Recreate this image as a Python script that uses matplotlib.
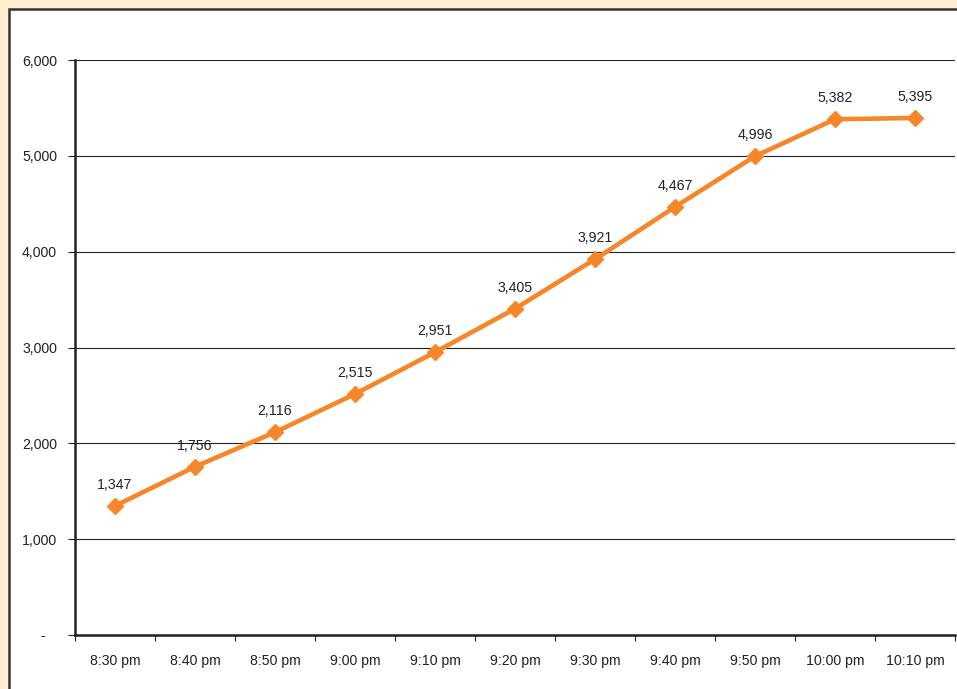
import matplotlib.pyplot as plt
from matplotlib.patches import Rectangle

times = ['8:30 pm', '8:40 pm', '8:50 pm', '9:00 pm', '9:10 pm', '9:20 pm',
         '9:30 pm', '9:40 pm', '9:50 pm', '10:00 pm', '10:10 pm']
counts = [1347, 1756, 2116, 2515, 2951, 3405, 3921, 4467, 4996, 5382, 5395]
yticks = [0, 1000, 2000, 3000, 4000, 5000, 6000]

plt.rcParams['font.family'] = ['Liberation Sans', 'DejaVu Sans']

fig = plt.figure(figsize=(9.57, 6.89), dpi=100)
fig.patch.set_facecolor('#FFEFCF')

# white chart panel with dark border
W, H = 957, 689
fig.patches.append(Rectangle((9 / W, -0.05), 1.1, (H - 9) / H + 0.05,
                             transform=fig.transFigure, facecolor='white',
                             edgecolor='#333333', linewidth=1.8, zorder=-10))

ax = fig.add_axes([75 / W, (H - 635) / H, 880 / W, 575 / H])
ax.set_zorder(5)
ax.set_facecolor('none')

x = range(len(times))
ax.plot(x, counts, color='#F5862A', linewidth=3.3, marker='D', markersize=8,
        zorder=3, clip_on=False)
for xi, v in zip(x, counts):
    ax.annotate(f'{v:,}', (xi, v), xytext=(0, 10), textcoords='offset points',
                ha='center', va='bottom', fontsize=10.2, color='#222222')

ax.set_xlim(-0.5, len(times) - 0.5)
ax.set_ylim(0, 6000)
ax.set_yticks(yticks)
# accounting-style zero: a dash followed by padding
ax.set_yticklabels(['-\u00a0\u00a0\u00a0' if t == 0 else f'{t:,}' for t in yticks],
                   fontsize=10.2, color='#222222')
ax.yaxis.grid(True, color='#222222', linewidth=0.8)
ax.set_axisbelow(True)

ax.set_xticks(x)
ax.set_xticklabels(times, fontsize=10.2, color='#222222')
ax.set_xticks([i - 0.5 for i in range(len(times) + 1)], minor=True)
ax.tick_params(axis='x', which='major', length=0, pad=14)
ax.tick_params(axis='x', which='minor', length=4, width=0.8, color='#222222')
ax.tick_params(axis='y', length=5, width=0.8, color='#222222', pad=8)

for s in ['top', 'right']:
    ax.spines[s].set_visible(False)
for s in ['left', 'bottom']:
    ax.spines[s].set_linewidth(1.8)
    ax.spines[s].set_color('#222222')

fig.savefig('out.png', dpi=100, facecolor=fig.get_facecolor())
